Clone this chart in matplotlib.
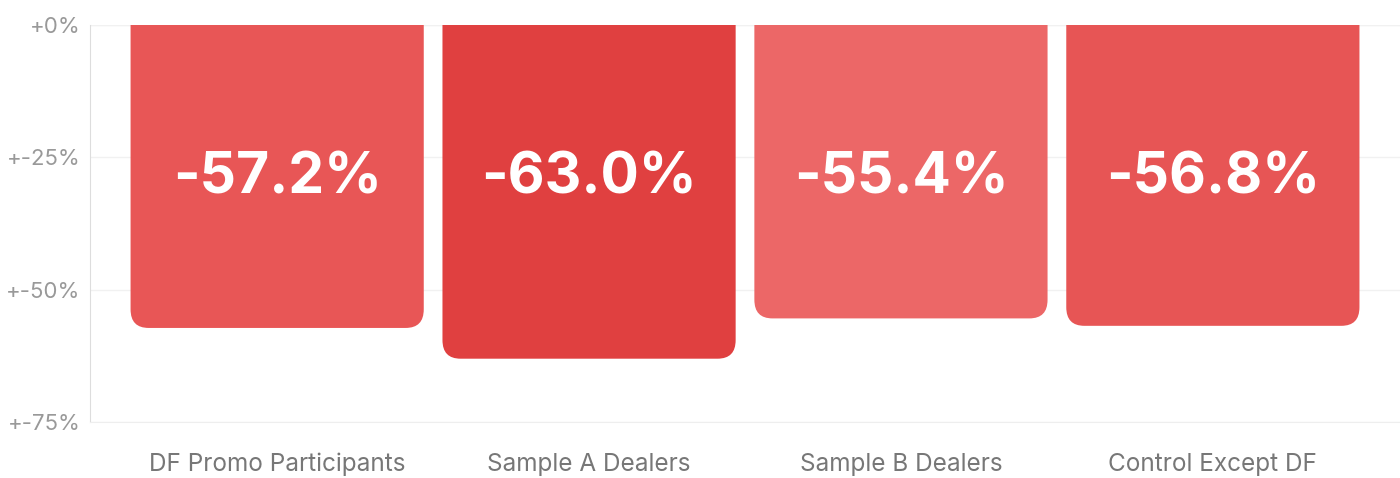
import matplotlib.pyplot as plt
from matplotlib.path import Path
from matplotlib.patches import PathPatch
from matplotlib.ticker import FuncFormatter

plt.rcParams['font.family'] = ['Inter', 'DejaVu Sans']

categories = ['DF Promo Participants', 'Sample A Dealers', 'Sample B Dealers', 'Control Except DF']
values = [-57.2, -63.0, -55.4, -56.8]
labels = ['-57.2%', '-63.0%', '-55.4%', '-56.8%']
colors = ['#E85656', '#E04040', '#EC6767', '#E75555']
yticks = [0, -25, -50, -75]

fig = plt.figure(figsize=(14, 4.78), dpi=100)
ax = fig.add_axes([0.0643, 0.1165, 0.9357, 0.8318])

bars = ax.bar(range(len(values)), values, width=0.94, color=colors, zorder=2)

ax.set_xlim(-0.6, 3.6)
ax.set_ylim(-75, 0)

# swap the plain rectangles for ones with rounded bottom corners
rx, ry = 0.058, 3.5
for b in bars:
    x0 = b.get_x()
    x1 = x0 + b.get_width()
    yb = b.get_y() + b.get_height()
    verts = [(x0, 0), (x0, yb + ry), (x0, yb), (x0 + rx, yb),
             (x1 - rx, yb), (x1, yb), (x1, yb + ry), (x1, 0), (x0, 0)]
    codes = [Path.MOVETO, Path.LINETO, Path.CURVE3, Path.CURVE3,
             Path.LINETO, Path.CURVE3, Path.CURVE3, Path.LINETO, Path.CLOSEPOLY]
    ax.add_patch(PathPatch(Path(verts, codes), facecolor=b.get_facecolor(),
                           edgecolor='none', zorder=2))
    b.remove()

for i, t in enumerate(labels):
    ax.text(i, 0.614, t, transform=ax.get_xaxis_transform(), ha='center', va='center',
            color='white', fontsize=41, fontweight='bold', zorder=3)

ax.set_yticks(yticks)
ax.yaxis.set_major_formatter(FuncFormatter(lambda v, _: f"+{int(round(v))}%"))
ax.set_xticks(range(len(categories)))
ax.set_xticklabels(categories)
ax.tick_params(axis='y', length=0, pad=7, labelsize=16, labelcolor='#999999')
ax.tick_params(axis='x', length=0, pad=22, labelsize=17.5, labelcolor='#777777')

ax.grid(axis='y', color='#f1f1f1', linewidth=1, zorder=0)
ax.axhline(0, color='#e0e0e0', linewidth=1.5, zorder=1)
for s in ['top', 'right']:
    ax.spines[s].set_visible(False)
ax.spines['left'].set_color('#dddddd')
ax.spines['bottom'].set_color('#eeeeee')

fig.savefig('out.png', dpi=100)
